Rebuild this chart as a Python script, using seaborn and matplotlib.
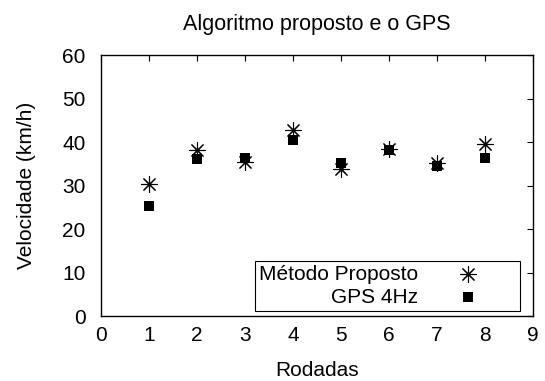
import numpy as np
import pandas as pd
import matplotlib
matplotlib.use("Agg")
import matplotlib.pyplot as plt
import seaborn as sns

# Data
rodadas = [1, 2, 3, 4, 5, 6, 7, 8]
metodo_proposto = [30.3, 38.2, 35.5, 42.8, 33.8, 38.4, 35.2, 39.5]
gps_4hz = [25.4, 36.0, 36.4, 40.5, 35.2, 38.2, 34.6, 36.4]
x_ticks = list(range(0, 10))
y_ticks = list(range(0, 70, 10))

sns.set_theme(style="white")
plt.rcParams["font.family"] = ["Liberation Sans", "DejaVu Sans"]
plt.rcParams["text.color"] = "black"
plt.rcParams["axes.labelcolor"] = "black"

fig = plt.figure(figsize=(5.45, 3.81), dpi=100)
ax = fig.add_axes([0.1853, 0.1706, 0.7927, 0.685])

df = pd.DataFrame({"rodada": rodadas, "metodo": metodo_proposto, "gps": gps_4hz})

sns.scatterplot(data=df, x="rodada", y="metodo", ax=ax, marker=(8, 2, 0),
                s=130, color="black", linewidth=0.8, label="Método Proposto")
sns.scatterplot(data=df, x="rodada", y="gps", ax=ax, marker="s",
                s=55, color="black", edgecolor="black", linewidth=0,
                label="GPS 4Hz")

ax.set_xlim(0, 9)
ax.set_ylim(0, 60)
ax.set_xticks(x_ticks)
ax.set_yticks(y_ticks)
ax.tick_params(direction="in", length=4.5, width=0.8, top=True, right=True,
               labelsize=15, colors="black")
ax.tick_params(axis="x", pad=7)
ax.tick_params(axis="y", pad=11)
for sp in ax.spines.values():
    sp.set_color("black")
    sp.set_linewidth(1.0)

ax.set_title("Algoritmo proposto e o GPS", fontsize=15.5, pad=18)
ax.set_xlabel("Rodadas", fontsize=15, labelpad=12)
ax.set_ylabel("Velocidade (km/h)", fontsize=15, labelpad=19)

leg = ax.legend(loc="lower right", markerfirst=False, fontsize=15,
                frameon=True, fancybox=False, edgecolor="black",
                framealpha=1, borderpad=0.2, labelspacing=0.2,
                handlelength=4.6, handletextpad=0.1, borderaxespad=0,
                bbox_to_anchor=(0.970, 0.019))
leg.get_frame().set_linewidth(0.8)

fig.savefig("out.png", dpi=100)
